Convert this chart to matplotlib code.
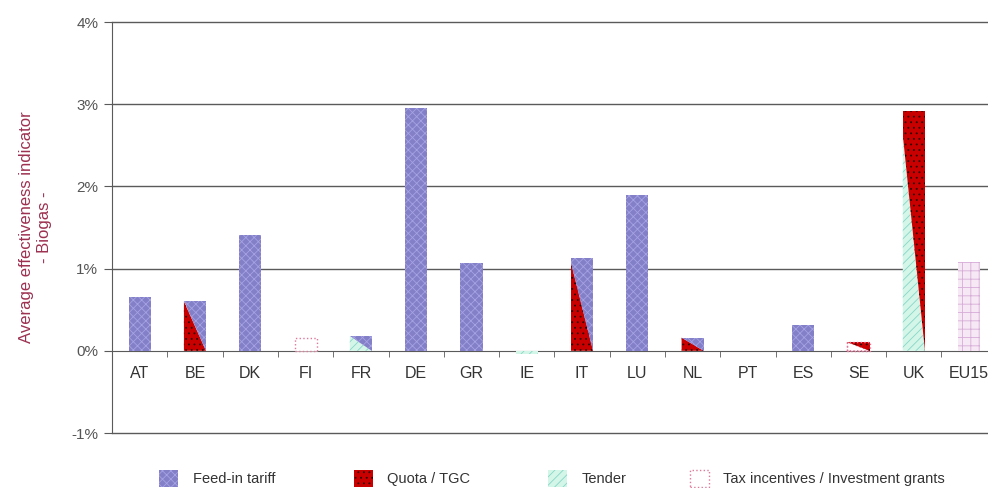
import matplotlib.pyplot as plt
import numpy as np
from matplotlib.patches import Patch

plt.rcParams['font.family'] = ['Liberation Sans', 'DejaVu Sans']
plt.rcParams['hatch.linewidth'] = 0.6

countries = ['AT', 'BE', 'DK', 'FI', 'FR', 'DE', 'GR', 'IE', 'IT', 'LU',
             'NL', 'PT', 'ES', 'SE', 'UK', 'EU15']
# effectiveness in %
values = [0.65, 0.60, 1.41, 0.15, 0.18, 2.95, 1.07, -0.04, 1.13, 1.89,
          0.16, 0.0, 0.32, 0.11, 2.92, 1.08]
# instrument in the lower-left part of the bar, and in the upper-right part
lower = ['fit', 'quota', 'fit', 'tax', 'tender', 'fit', 'fit', 'tender', 'quota', 'fit',
         'quota', 'fit', 'fit', 'tax', 'tender', 'eu']
upper = ['fit', 'fit', 'fit', 'tax', 'fit', 'fit', 'fit', 'tender', 'fit', 'fit',
         'fit', 'fit', 'fit', 'quota', 'quota', 'eu']
# where the diagonal split meets the left side of the bar (share of height)
split = [1, 1, 1, 1, 1, 1, 1, 1, 0.95, 1, 1, 1, 1, 1, 0.89, 1]

legend_keys = ['fit', 'quota', 'tender', 'tax']
legend_labels = ['Feed-in tariff', 'Quota / TGC', 'Tender',
                 'Tax incentives / Investment grants']

styles = {
    'fit': dict(facecolor='#8480c8', edgecolor='#a6a2e4', hatch='xxxx', linewidth=0),
    'quota': dict(facecolor='#c80000', edgecolor='#300000', hatch='...', linewidth=0),
    'tender': dict(facecolor='#d4f6e8', edgecolor='#86d6c6', hatch='////', linewidth=0),
    'tax': dict(facecolor='white', edgecolor='#e07898', hatch='', linewidth=1.0,
                linestyle=':'),
    'eu': dict(facecolor='#f6e8f4', edgecolor='#d6acd8', hatch='++', linewidth=0),
}

fig = plt.figure(figsize=(9.88, 4.88), dpi=100)
ax = fig.add_axes([0.1134, 0.1127, 0.8955, 0.8422])

x = np.arange(len(countries))
w = 0.4

for i, v in enumerate(values):
    x0, x1 = x[i] - w / 2, x[i] + w / 2
    if lower[i] == upper[i]:
        ax.bar(x[i], v, w, zorder=3, **styles[lower[i]])
    else:
        f = split[i]
        ax.fill([x0, x0, x1], [0, v * f, 0], zorder=3, **styles[lower[i]])
        ax.fill([x0, x0, x1, x1], [v * f, v, v, 0], zorder=3, **styles[upper[i]])
    if 'tax' in (lower[i], upper[i]) and lower[i] != upper[i]:
        ax.bar(x[i], v, w, fill=False, edgecolor='#e07898', linewidth=1.0,
               linestyle=':', zorder=4)

ax.set_xlim(-0.5, len(countries) - 0.5)
ax.set_ylim(-1, 4)
ax.set_yticks([-1, 0, 1, 2, 3, 4])
ax.set_yticklabels(['-1%', '0%', '1%', '2%', '3%', '4%'])
for yv in [-1, 1, 2, 3, 4]:
    ax.axhline(yv, color='#5a5a5a', linewidth=1.0, zorder=1, clip_on=False)

ax.spines['bottom'].set_position(('data', 0))
ax.spines['bottom'].set_color('#5a5a5a')
ax.spines['left'].set_color('#5a5a5a')
ax.spines['top'].set_visible(False)
ax.spines['right'].set_visible(False)

ax.set_xticks(x)
ax.set_xticklabels(countries, fontsize=11.5, color='#333333')
ax.set_xticks(x[:-1] + 0.5, minor=True)
ax.tick_params(axis='x', which='major', length=0, pad=11)
ax.tick_params(axis='x', which='minor', length=4, direction='out', color='#5a5a5a')
ax.tick_params(axis='y', length=6, color='#5a5a5a', labelsize=11,
               labelcolor='#555555', pad=4)

ax.set_ylabel('Average effectiveness indicator\n- Biogas -', fontsize=12,
              color='#9c3050', labelpad=14)

# legend entries spread along the bottom
legend_x = [0.161, 0.358, 0.555, 0.698]
for k, lab, lx in zip(legend_keys, legend_labels, legend_x):
    h = Patch(**styles[k])
    fig.legend(handles=[h], labels=[lab], loc='center left',
               bbox_to_anchor=(lx, 0.02), frameon=False, fontsize=10.5,
               handlelength=1.3, handleheight=1.4, handletextpad=1.0,
               borderaxespad=0, borderpad=0, labelcolor='#333333')

fig.savefig('out.png', dpi=100)
